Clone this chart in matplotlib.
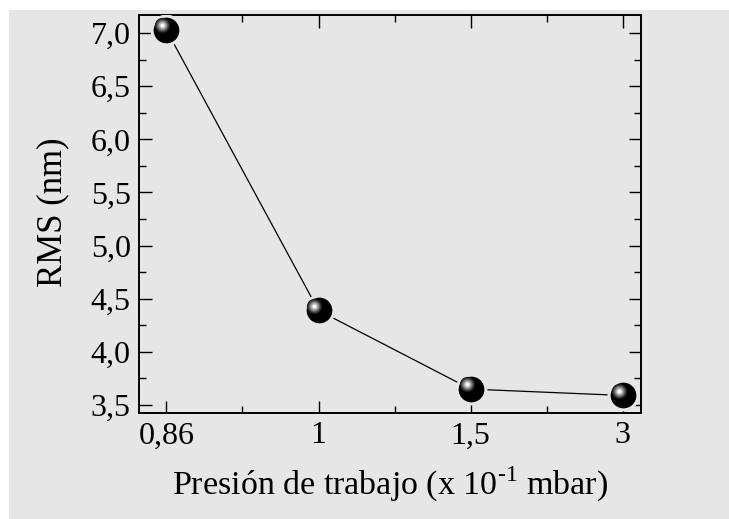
import matplotlib
matplotlib.use("Agg")
import matplotlib.pyplot as plt
import matplotlib.transforms as mtransforms
from matplotlib.patches import Rectangle
from matplotlib.ticker import FixedLocator, FuncFormatter, MultipleLocator

plt.rcParams['font.family'] = ['Liberation Serif', 'DejaVu Serif']
plt.rcParams['mathtext.fontset'] = 'custom'
plt.rcParams['mathtext.rm'] = 'Liberation Serif'

# Working pressure (x 10^-1 mbar) and RMS roughness (nm)
pressure_labels = ['0,86', '1', '1,5', '3']
rms = [7.03, 4.39, 3.65, 3.59]

bg = '#e6e6e6'
fig = plt.figure(figsize=(7.29, 5.19), dpi=100, facecolor='white')
# grey panel behind everything, leaving a thin white margin top/left
fig.patches.append(Rectangle((9 / 729, 0), 1, 1 - 10 / 519, transform=fig.transFigure,
                             facecolor=bg, edgecolor='none', zorder=-10))

ax = fig.add_axes([139 / 729, 1 - 413 / 519, 502 / 729, 398 / 519])
ax.set_facecolor(bg)

x = list(range(len(pressure_labels)))
ax.plot(x, rms, color='black', lw=0.9, zorder=2)

# background-coloured disc leaves a small gap between line and sphere
ax.plot(x, rms, 'o', ms=23, color=bg, mec='none', zorder=3)

# shaded sphere: black ball with a soft grey highlight
ax.plot(x, rms, 'o', ms=18.5, color='black', mec='none', zorder=4)
shades = [(11, '#1e1e1e'), (9.5, '#3c3c3c'), (8, '#666666'), (6.5, '#8e8e8e'),
          (5, '#b4b4b4'), (3.5, '#dcdcdc'), (2.2, '#ffffff')]
tr = mtransforms.offset_copy(ax.transData, fig=fig, x=-2.9, y=3.4, units='points')
for size, col in shades:
    ax.plot(x, rms, 'o', ms=size, color=col, mec='none', zorder=5, transform=tr)

ax.set_xlim(-0.18, 3.12)
ax.set_ylim(3.425, 7.17)

ax.xaxis.set_major_locator(FixedLocator(x))
ax.xaxis.set_minor_locator(FixedLocator([0.5, 1.5, 2.5]))
ax.set_xticklabels(pressure_labels)
ax.yaxis.set_major_locator(MultipleLocator(0.5))
ax.yaxis.set_minor_locator(MultipleLocator(0.25))
ax.yaxis.set_major_formatter(FuncFormatter(lambda v, p: f'{v:.1f}'.replace('.', ',')))

ax.tick_params(which='both', direction='in', top=True, right=True, width=1.0,
               labelsize=23, pad=6)
ax.tick_params(which='major', length=9)
ax.tick_params(which='minor', length=5)
for s in ax.spines.values():
    s.set_linewidth(1.4)

fig.text(53 / 729, 1 - 212 / 519, 'RMS (nm)', fontsize=25, rotation=90,
         ha='center', va='center')
fig.text(390 / 729, 1 - 484 / 519, r'Presión de trabajo (x 10$^{\text{-1}}$ mbar)',
         fontsize=24.5, ha='center', va='center')

fig.savefig('out.png', dpi=100, facecolor=fig.get_facecolor())
